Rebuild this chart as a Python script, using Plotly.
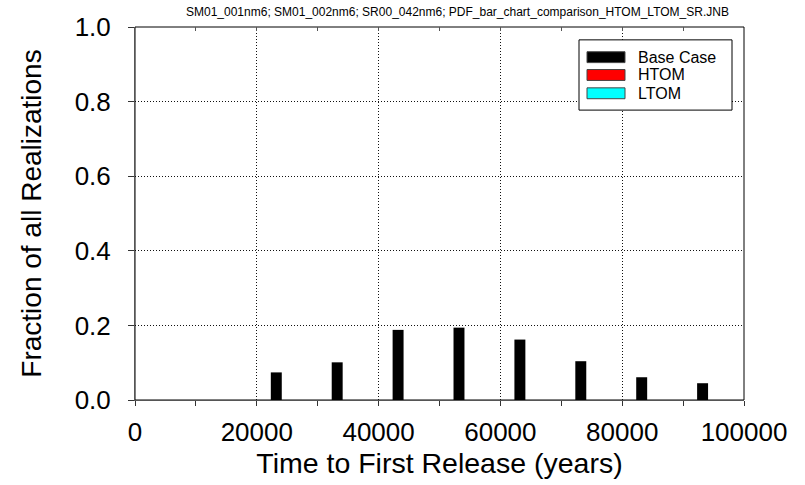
import plotly.graph_objects as go

# ---- data ----
bin_centers = [25000, 35000, 45000, 55000, 65000, 75000, 85000, 95000]
base_case = [0.074, 0.101, 0.188, 0.194, 0.162, 0.104, 0.061, 0.045]
htom = [0, 0, 0, 0, 0, 0, 0, 0]
ltom = [0, 0, 0, 0, 0, 0, 0, 0]
series_names = ["Base Case", "HTOM", "LTOM"]
series_colors = ["#000000", "#ff0000", "#00ffff"]
x_ticks = [0, 20000, 40000, 60000, 80000, 100000]
y_ticks = [0.0, 0.2, 0.4, 0.6, 0.8, 1.0]
subtitle = "SM01_001nm6; SM01_002nm6; SR00_042nm6; PDF_bar_chart_comparison_HTOM_LTOM_SR.JNB"
x_title = "Time to First Release (years)"
y_title = "Fraction of all Realizations"

FONT = "Liberation Sans, Arial, sans-serif"

fig = go.Figure()
for name, vals, col in zip(series_names, [base_case, htom, ltom], series_colors):
    fig.add_trace(go.Bar(x=bin_centers, y=vals, name=name,
                         marker=dict(color=col, line=dict(width=0)),
                         showlegend=False))
# helper trace so the top tick axis is drawn
fig.add_trace(go.Scatter(x=[None], y=[None], xaxis="x2", showlegend=False,
                         hoverinfo="skip"))

W, H = 805, 485
ml, mr, mt, mb = 135, 61, 23, 85
pw, ph = W - ml - mr, H - mt - mb

def px(x):
    return (x - ml) / pw

def py(y):
    return 1 - (y - mt) / ph

# frame (top/right black), left/bottom axis lines drawn grey by axes
shapes = [dict(type="rect", xref="paper", yref="paper", x0=0, x1=1, y0=0, y1=1,
               line=dict(color="black", width=1), layer="below")]

# manual legend (box, swatches, labels)
L, R, T, B = 579, 732, 36, 107
shapes.append(dict(type="rect", xref="paper", yref="paper",
                   x0=px(L), x1=px(R), y0=py(B), y1=py(T),
                   line=dict(color="black", width=1), fillcolor="white", layer="above"))
annotations = []
row_centers = [53.5, 71.5, 90]
for name, col, yc in zip(series_names, series_colors, row_centers):
    shapes.append(dict(type="rect", xref="paper", yref="paper",
                       x0=px(587), x1=px(625), y0=py(yc + 5.5), y1=py(yc - 5.5),
                       line=dict(color="#444444", width=1), fillcolor=col, layer="above"))
    annotations.append(dict(text=name, xref="paper", yref="paper",
                            x=px(636), y=py(yc), xanchor="left", yanchor="middle",
                            showarrow=False, font=dict(family=FONT, size=16, color="black")))

annotations.append(dict(text=subtitle, xref="paper", yref="paper",
                        x=px(457), y=py(8), xanchor="center", yanchor="middle",
                        showarrow=False, font=dict(family=FONT, size=12, color="black")))

fig.update_layout(
    width=W, height=H,
    margin=dict(l=ml, r=mr, t=mt, b=mb, pad=0),
    paper_bgcolor="white", plot_bgcolor="white",
    font=dict(family=FONT, color="black"),
    barmode="group", bargap=0.46, bargroupgap=0,
    shapes=shapes, annotations=annotations,
    showlegend=False,
    xaxis=dict(
        range=[0, 100000], tickvals=x_ticks, ticktext=[str(v) for v in x_ticks],
        ticks="outside", ticklen=5, tickcolor="#333333", tickwidth=1,
        minor=dict(dtick=10000, tick0=0, ticks="outside", ticklen=5,
                   tickcolor="#333333", showgrid=False),
        showgrid=True, gridcolor="#111111", griddash="1px,2px", gridwidth=1,
        showline=True, linecolor="#555555", linewidth=1, mirror=False,
        zeroline=False,
        tickfont=dict(size=26, family=FONT), ticklabelstandoff=4,
        title=dict(text=x_title, font=dict(size=28.5, family=FONT), standoff=6),
    ),
    xaxis2=dict(overlaying="x", side="top", range=[0, 100000], dtick=10000, tick0=0,
                ticks="inside", ticklen=4, tickcolor="#555555", showticklabels=False,
                showgrid=False, zeroline=False, showline=False),
    yaxis=dict(
        range=[0, 1.0], tickvals=y_ticks, tickformat=".1f",
        ticks="outside", ticklen=6, tickcolor="#333333", tickwidth=1,
        showgrid=True, gridcolor="#111111", griddash="1px,2px", gridwidth=1,
        showline=True, linecolor="#555555", linewidth=1, mirror=False,
        zeroline=False,
        tickfont=dict(size=26, family=FONT), ticklabelstandoff=12,
        title=dict(text=y_title, font=dict(size=28, family=FONT), standoff=24),
    ),
)

fig.write_html("out.html")
